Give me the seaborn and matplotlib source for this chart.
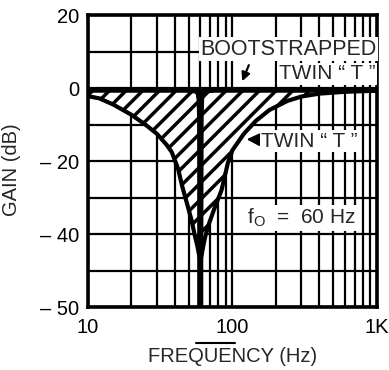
import numpy as np
import pandas as pd
import matplotlib.pyplot as plt
import seaborn as sns
from matplotlib.ticker import FixedLocator, LogLocator, MultipleLocator, NullFormatter
from matplotlib.lines import Line2D

# values
freq_hz = [10, 12, 15, 20, 25, 30, 35, 38, 42, 45, 48, 52, 55, 57, 58, 59, 59.5, 60,
           60.5, 61, 62, 63, 65, 69, 75, 84, 93, 100, 120, 145, 180, 240, 300, 400, 600, 1000]
twin_t_db = [-2.2, -2.8, -4.5, -7.3, -10, -12.5, -15.5, -17.5, -22, -27, -31, -36, -40.5, -43, -44.5, -46, -46.5, -47,
             -46.5, -46, -44.5, -43, -40.5, -37, -33, -28, -20.5, -17, -12.5, -9, -6, -3.5, -2.3, -1.5, -1, -0.7]
bootstrapped_db = [-0.5, -0.5, -0.5, -0.5, -0.5, -0.5, -0.5, -0.5, -0.5, -0.5, -0.5, -0.6, -0.7, -0.8, -1.2, -3, -8, -60,
                   -8, -3, -1.2, -0.8, -0.7, -0.6, -0.5, -0.5, -0.5, -0.5, -0.5, -0.5, -0.5, -0.5, -0.5, -0.5, -0.5, -0.5]

x_ticks = [10, 100, 1000]
x_tick_labels = ['10', '100', '1K']
y_ticks = [20, 0, -20, -40, -60]
y_tick_labels = ['20', '0', '– 20', '– 40', '– 50']

sns.set_style('white')
plt.rcParams['font.family'] = ['Liberation Sans', 'DejaVu Sans']
plt.rcParams['hatch.linewidth'] = 2.5
plt.rcParams['hatch.color'] = 'black'

df = pd.DataFrame({'freq': freq_hz, 'twin': twin_t_db, 'boot': bootstrapped_db})

fig, ax = plt.subplots(figsize=(3.89, 3.70), dpi=100)
fig.subplots_adjust(left=0.226, right=0.969, top=0.959, bottom=0.170)

# hatched band between the two responses
ax.fill_between(df['freq'], df['twin'], df['boot'], facecolor='white',
                edgecolor='black', hatch='//', linewidth=0, zorder=2)
sns.lineplot(data=df, x='freq', y='twin', color='black', lw=3.0, ax=ax, zorder=3)
sns.lineplot(data=df, x='freq', y='boot', color='black', lw=4.0, ax=ax, zorder=3)

ax.set_xscale('log')
ax.set_xlim(10, 1000)
ax.set_ylim(-60, 20)

ax.xaxis.set_major_locator(FixedLocator(x_ticks))
ax.set_xticklabels(x_tick_labels)
ax.xaxis.set_minor_locator(LogLocator(base=10, subs=np.arange(2, 10)))
ax.xaxis.set_minor_formatter(NullFormatter())
ax.set_yticks(y_ticks)
ax.set_yticklabels(y_tick_labels)
ax.yaxis.set_minor_locator(MultipleLocator(10))

ax.set_axisbelow(True)
ax.grid(which='both', color='black', lw=1.6)
ax.tick_params(which='both', length=0, labelsize=14.5, colors='black')
ax.tick_params(axis='x', pad=8)
ax.tick_params(axis='y', pad=6)
for sp in ax.spines.values():
    sp.set_linewidth(2.6)
    sp.set_color('black')

ax.set_xlabel('FREQUENCY (Hz)', fontsize=14.5)
ax.set_ylabel('GAIN (dB)', fontsize=14.5)
ax.xaxis.set_label_coords(0.5, -0.135)
ax.yaxis.set_label_coords(-0.23, 0.47)

box = dict(facecolor='white', edgecolor='none', pad=1.0)
arrow = dict(arrowstyle='-|>,head_length=0.5,head_width=0.25', color='black', lw=1.6)

ax.text(1.0, 0.884, 'BOOTSTRAPPED', transform=ax.transAxes, ha='right', va='center',
        fontsize=15.5, bbox=box, zorder=5)
ax.text(0.995, 0.80, 'TWIN \u201c T \u201d', transform=ax.transAxes, ha='right', va='center',
        fontsize=15, bbox=box, zorder=5)
ax.annotate('', xy=(115, 1.2), xytext=(132, 7.0), arrowprops=arrow, zorder=5)
ax.annotate('TWIN \u201c T \u201d', xy=(120, -14), xytext=(158, -14.5), ha='left', va='center',
            fontsize=15, bbox=box, arrowprops=arrow, zorder=5)
ax.text(300, -35.6, r'f$_\mathregular{O}$  =  60 Hz', ha='center', va='center',
        fontsize=15, bbox=box, zorder=5)

# short rule between the tick labels and the axis title
fig.add_artist(Line2D([196 / 389, 235 / 389], [1 - 343 / 370, 1 - 343 / 370], color='black', lw=1.5))

fig.savefig('out.png', dpi=100)
